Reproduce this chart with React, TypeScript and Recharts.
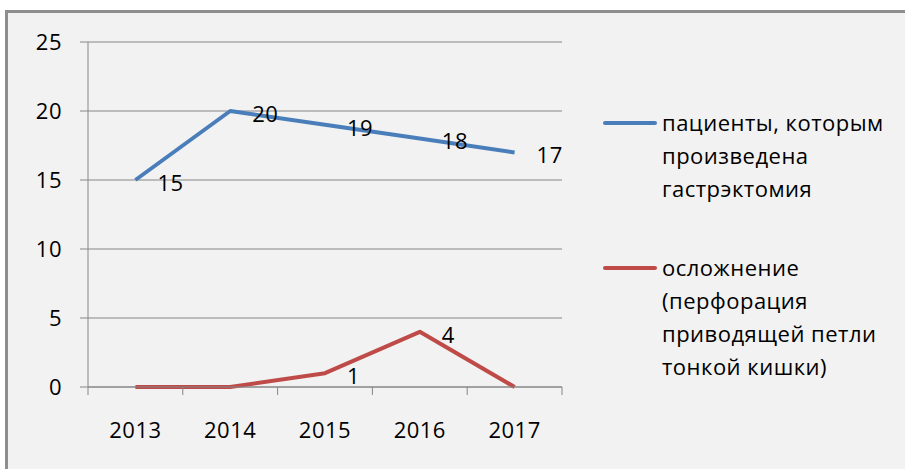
import React from 'react';
import { LineChart, Line, XAxis, YAxis, CartesianGrid, Legend, LabelList } from 'recharts';

const years = ['2013', '2014', '2015', '2016', '2017'];
const gastrectomy = [15, 20, 19, 18, 17];
const complication = [0, 0, 1, 4, 0];
const yTicks = [0, 5, 10, 15, 20, 25];
const seriesNames = [
  'пациенты, которым произведена гастрэктомия',
  'осложнение (перфорация приводящей петли тонкой кишки)',
];
const seriesColors = ['#4A7EBB', '#BE4B48'];

const data = years.map((year, i) => ({ year, a: gastrectomy[i], b: complication[i] }));

const W = 905;
const H = 469;
const PLOT_LEFT = 88;
const PLOT_RIGHT = 562;
const PLOT_TOP = 42;
const PLOT_BOTTOM = 387;
const Y_AXIS_W = 60;
const X_AXIS_H = 40;
const HALF_BAND = (PLOT_RIGHT - PLOT_LEFT) / years.length / 2;
const FONT = '"Open Sans", sans-serif';
const FONT_SIZE = 22;
const SPACING = 0.5;
const GRID = '#868686';

// Excel-style category axis: tick marks sit between categories, labels in the middle
function YearTick(props: any) {
  const { x, payload, index } = props;
  return (
    <g>
      <line x1={x - HALF_BAND} x2={x - HALF_BAND} y1={PLOT_BOTTOM} y2={PLOT_BOTTOM + 8} stroke={GRID} />
      {index === years.length - 1 && (
        <line x1={x + HALF_BAND} x2={x + HALF_BAND} y1={PLOT_BOTTOM} y2={PLOT_BOTTOM + 8} stroke={GRID} />
      )}
      <text
        x={x}
        y={PLOT_BOTTOM + 43}
        dy="0.35em"
        textAnchor="middle"
        fill="#000"
        fontFamily={FONT}
        fontSize={FONT_SIZE}
        letterSpacing={SPACING}
      >
        {payload.value}
      </text>
    </g>
  );
}

function PointLabel(props: any) {
  const { x, y, value } = props;
  if (!value) return null; // Excel shows no label for the zero points here
  return (
    <text
      x={x + 22}
      y={y + 3}
      dy="0.35em"
      fill="#000"
      fontFamily={FONT}
      fontSize={FONT_SIZE}
      letterSpacing={SPACING}
    >
      {value}
    </text>
  );
}

function LegendBox(props: any) {
  const items = [...(props.payload || [])].sort(
    (p: any, q: any) => seriesNames.indexOf(p.value) - seriesNames.indexOf(q.value)
  );
  return (
    <div style={{ fontFamily: FONT, fontSize: FONT_SIZE, letterSpacing: SPACING, lineHeight: '33px', color: '#000' }}>
      {items.map((item: any, i: number) => (
        <div key={i} style={{ display: 'flex', alignItems: 'flex-start', marginBottom: i === 0 ? 46 : 0 }}>
          <div
            style={{
              width: 54,
              height: 4,
              marginTop: 15,
              marginRight: 5,
              borderRadius: 2,
              background: item.color,
              flexShrink: 0,
            }}
          />
          <div style={{ width: 236 }}>{item.value}</div>
        </div>
      ))}
    </div>
  );
}

export default function App() {
  return (
    <div style={{ position: 'absolute', left: 0, top: 0, width: W, height: H, background: '#fff', overflow: 'hidden' }}>
      <div
        style={{
          position: 'absolute',
          left: 5,
          top: 10,
          width: W,
          height: H,
          background: '#f2f2f2',
          borderTop: '3px solid #8e8e8e',
          borderLeft: '3px solid #8e8e8e',
        }}
      />
      <div style={{ position: 'absolute', left: 0, top: 0 }}>
        <LineChart
          width={W}
          height={H}
          data={data}
          margin={{
            top: PLOT_TOP,
            right: W - PLOT_RIGHT,
            left: PLOT_LEFT - Y_AXIS_W,
            bottom: H - PLOT_BOTTOM - X_AXIS_H,
          }}
        >
          <CartesianGrid vertical={false} stroke={GRID} strokeWidth={1} />
          <XAxis
            dataKey="year"
            height={X_AXIS_H}
            padding={{ left: HALF_BAND, right: HALF_BAND }}
            axisLine={{ stroke: GRID }}
            tickLine={false}
            tick={<YearTick />}
            interval={0}
          />
          <YAxis
            width={Y_AXIS_W}
            domain={[0, 25]}
            ticks={yTicks}
            interval={0}
            axisLine={{ stroke: GRID }}
            tickLine={{ stroke: GRID }}
            tickSize={8}
            tickMargin={18}
            tick={{ fill: '#000', fontFamily: FONT, fontSize: FONT_SIZE, letterSpacing: SPACING }}
          />
          <Legend
            layout="vertical"
            align="center"
            verticalAlign="middle"
            wrapperStyle={{ left: 603, top: 106, width: 300 }}
            content={<LegendBox />}
          />
          <Line
            dataKey="a"
            name={seriesNames[0]}
            stroke={seriesColors[0]}
            strokeWidth={4}
            strokeLinejoin="round"
            dot={false}
            isAnimationActive={false}
          >
            <LabelList dataKey="a" content={<PointLabel />} />
          </Line>
          <Line
            dataKey="b"
            name={seriesNames[1]}
            stroke={seriesColors[1]}
            strokeWidth={4}
            strokeLinejoin="round"
            dot={false}
            isAnimationActive={false}
          >
            <LabelList dataKey="b" content={<PointLabel />} />
          </Line>
        </LineChart>
      </div>
    </div>
  );
}
